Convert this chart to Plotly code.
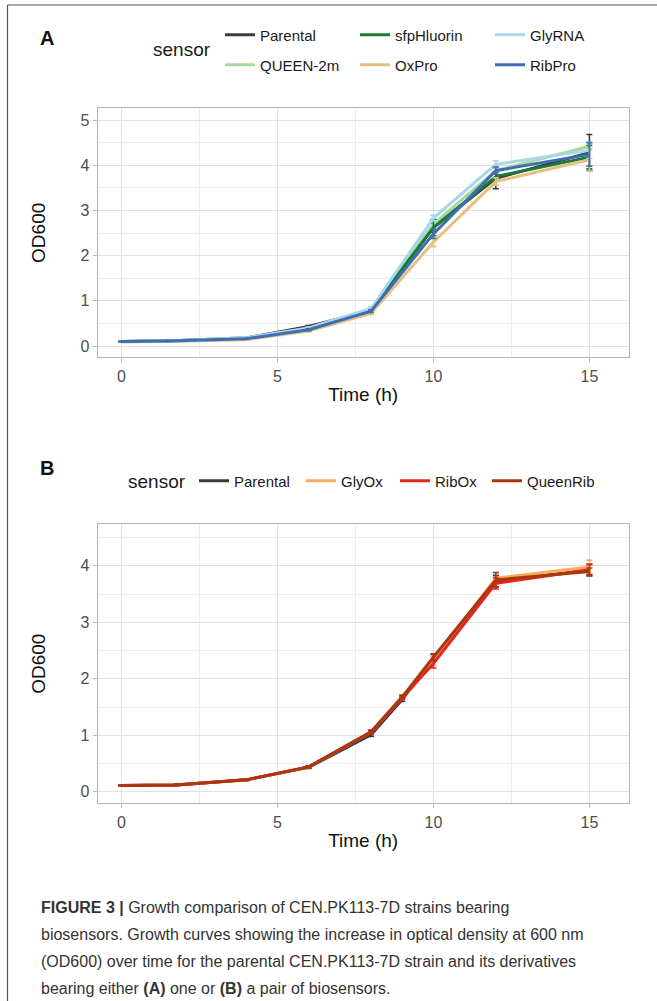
import plotly.graph_objects as go

# ---------------- data ----------------
time_a = [0, 1.5, 4, 6, 8, 10, 12, 15]
parental_a = [0.10, 0.11, 0.18, 0.43, 0.78, 2.62, 3.71, 4.28]
parental_a_err = [0.01, 0.01, 0.01, 0.02, 0.03, 0.10, 0.23, 0.40]
queen_a = [0.10, 0.11, 0.18, 0.39, 0.82, 2.70, 3.88, 4.42]
queen_a_err = [0.01, 0.01, 0.01, 0.02, 0.03, 0.10, 0.08, 0.08]
sfp_a = [0.10, 0.11, 0.17, 0.38, 0.80, 2.62, 3.75, 4.18]
sfp_a_err = [0.01, 0.01, 0.01, 0.02, 0.03, 0.18, 0.10, 0.26]
oxpro_a = [0.09, 0.10, 0.14, 0.33, 0.72, 2.30, 3.64, 4.12]
oxpro_a_err = [0.01, 0.01, 0.01, 0.02, 0.03, 0.10, 0.08, 0.25]
glyrna_a = [0.10, 0.11, 0.18, 0.40, 0.83, 2.83, 4.02, 4.33]
glyrna_a_err = [0.01, 0.01, 0.01, 0.02, 0.03, 0.06, 0.08, 0.18]
ribpro_a = [0.10, 0.11, 0.16, 0.36, 0.77, 2.48, 3.88, 4.24]
ribpro_a_err = [0.01, 0.01, 0.01, 0.02, 0.03, 0.10, 0.08, 0.26]

time_b = [0, 1.75, 4, 6, 8, 9, 10, 12, 15]
parental_b = [0.11, 0.12, 0.21, 0.43, 1.01, 1.63, 2.37, 3.73, 3.92]
parental_b_err = [0.01, 0.01, 0.01, 0.02, 0.03, 0.03, 0.06, 0.10, 0.10]
glyox_b = [0.11, 0.12, 0.21, 0.44, 1.05, 1.67, 2.32, 3.78, 3.98]
glyox_b_err = [0.01, 0.01, 0.01, 0.02, 0.03, 0.03, 0.08, 0.10, 0.12]
ribox_b = [0.11, 0.12, 0.21, 0.44, 1.05, 1.66, 2.27, 3.69, 3.93]
ribox_b_err = [0.01, 0.01, 0.01, 0.02, 0.03, 0.03, 0.08, 0.10, 0.10]
queenrib_b = [0.11, 0.12, 0.21, 0.44, 1.06, 1.68, 2.38, 3.75, 3.90]
queenrib_b_err = [0.01, 0.01, 0.01, 0.02, 0.03, 0.03, 0.06, 0.13, 0.06]

x_ticks = [0, 5, 10, 15]
y_ticks_a = [0, 1, 2, 3, 4, 5]
y_ticks_b = [0, 1, 2, 3, 4]

caption_lines = [
    "<b>FIGURE 3 |</b> Growth comparison of CEN.PK113-7D strains bearing",
    "biosensors. Growth curves showing the increase in optical density at 600 nm",
    "(OD600) over time for the parental CEN.PK113-7D strain and its derivatives",
    "bearing either <b>(A)</b> one or <b>(B)</b> a pair of biosensors.",
]

# ---------------- styling ----------------
W, H = 657, 1001
FONT = "Liberation Sans, Arial, sans-serif"

series_a = [
    # name, y, err, colour, legend, rank
    ("Parental", parental_a, parental_a_err, "#3b3b3b", "legend", 1),
    ("QUEEN-2m", queen_a, queen_a_err, "#a3dc9a", "legend2", 1),
    ("sfpHluorin", sfp_a, sfp_a_err, "#1c7a36", "legend", 2),
    ("OxPro", oxpro_a, oxpro_a_err, "#e5c17f", "legend2", 2),
    ("GlyRNA", glyrna_a, glyrna_a_err, "#a8d7ec", "legend", 3),
    ("RibPro", ribpro_a, ribpro_a_err, "#3e6db4", "legend2", 3),
]
series_b = [
    # name, y, err, colour, legend
    ("Parental", parental_b, parental_b_err, "#3b3b3b", "legend3"),
    ("GlyOx", glyox_b, glyox_b_err, "#fcaa5e", "legend4"),
    ("RibOx", ribox_b, ribox_b_err, "#e4261e", "legend5"),
    ("QueenRib", queenrib_b, queenrib_b_err, "#ab3710", "legend6"),
]
legend_b_x = [194, 301, 395, 487]

fig = go.Figure()
for name, y, e, c, lg, rk in series_a:
    fig.add_trace(go.Scatter(
        x=time_a, y=y, name=name, mode="lines", xaxis="x", yaxis="y",
        line=dict(color=c, width=3),
        error_y=dict(type="data", array=e, visible=True, color=c, thickness=1.6, width=3),
        legend=lg, legendrank=rk))
for name, y, e, c, lg in series_b:
    fig.add_trace(go.Scatter(
        x=time_b, y=y, name=name, mode="lines", xaxis="x2", yaxis="y2",
        line=dict(color=c, width=3),
        error_y=dict(type="data", array=e, visible=True, color=c, thickness=1.6, width=3),
        legend=lg))

def px_x(p):
    return p / W

def px_y(p):
    return 1 - p / H

grid = "#e0e0e0"
border = "#b5b5b5"
common_x = dict(
    range=[-0.76, 16.26], tickvals=x_ticks, ticks="outside", ticklen=4, tickcolor=border,
    tickfont=dict(family=FONT, size=16, color="#4d4d4d"),
    showgrid=True, gridcolor=grid, gridwidth=1,
    minor=dict(dtick=2.5, tick0=2.5, showgrid=True, gridcolor="#ededed", gridwidth=1),
    showline=True, linecolor=border, linewidth=1.2, mirror=True, zeroline=False,
    domain=[px_x(97.7), px_x(628.7)],
    title=dict(text="Time (h)", font=dict(family=FONT, size=19, color="#111"), standoff=4),
)
common_y = dict(
    ticks="outside", ticklen=4, tickcolor=border,
    tickfont=dict(family=FONT, size=16, color="#4d4d4d"),
    showgrid=True, gridcolor=grid, gridwidth=1,
    minor=dict(dtick=0.5, tick0=0.5, showgrid=True, gridcolor="#ededed", gridwidth=1),
    showline=True, linecolor=border, linewidth=1.2, mirror=True, zeroline=False,
    title=dict(text="OD600", font=dict(family=FONT, size=19, color="#111"), standoff=29),
)

legend_font = dict(family=FONT, size=15, color="#1a1a1a")
layout_legends = dict(
    legend=dict(orientation="h", x=px_x(220), xanchor="left", y=px_y(35), yanchor="middle",
                entrywidth=90, entrywidthmode="pixels", traceorder="normal",
                font=legend_font, bgcolor="rgba(0,0,0,0)"),
    legend2=dict(orientation="h", x=px_x(220), xanchor="left", y=px_y(65), yanchor="middle",
                 entrywidth=90, entrywidthmode="pixels", traceorder="normal",
                 font=legend_font, bgcolor="rgba(0,0,0,0)"),
)
for s, lx in zip(series_b, legend_b_x):
    layout_legends[s[4]] = dict(orientation="h", x=px_x(lx), xanchor="left", y=px_y(481),
                                yanchor="middle", font=legend_font, bgcolor="rgba(0,0,0,0)")

fig.update_layout(
    width=W, height=H, margin=dict(l=0, r=0, t=0, b=0),
    paper_bgcolor="white", plot_bgcolor="white",
    font=dict(family=FONT),
    xaxis=dict(common_x, anchor="y"),
    yaxis=dict(common_y, range=[-0.25, 5.26], tickvals=y_ticks_a,
               domain=[px_y(357.3), px_y(108.3)], anchor="x"),
    xaxis2=dict(common_x, anchor="y2"),
    yaxis2=dict(common_y, range=[-0.205, 4.74], tickvals=y_ticks_b,
                domain=[px_y(803.3), px_y(524)], anchor="x2"),
    showlegend=True,
    **layout_legends,
)

anns = [
    dict(text="<b>A</b>", x=px_x(38), y=px_y(38), font=dict(size=20, color="#111")),
    dict(text="<b>B</b>", x=px_x(38), y=px_y(468), font=dict(size=20, color="#111")),
    dict(text="sensor", x=px_x(151), y=px_y(50), font=dict(size=19, color="#1a1a1a")),
    dict(text="sensor", x=px_x(126), y=px_y(481), font=dict(size=19, color="#1a1a1a")),
]
for i, line in enumerate(caption_lines):
    anns.append(dict(text=line, x=px_x(39), y=px_y(907 + 27.3 * i),
                     font=dict(size=16, color="#333333")))
for a in anns:
    a.update(xref="paper", yref="paper", xanchor="left", yanchor="middle",
             showarrow=False)
    a["font"]["family"] = FONT
fig.update_layout(annotations=anns)

# frame lines (top and left) of the figure panel
fig.update_layout(shapes=[
    dict(type="line", xref="paper", yref="paper", x0=px_x(7.5), x1=1, y0=px_y(5), y1=px_y(5),
         line=dict(color="#555", width=1.2)),
    dict(type="line", xref="paper", yref="paper", x0=px_x(7.5), x1=px_x(7.5), y0=0, y1=px_y(5),
         line=dict(color="#555", width=1.2)),
])

# remove the page's default 8px body margin so the figure sits at the window origin
fig.write_html("out.html", config={"displayModeBar": False},
               post_script="document.body.style.margin='0px';")
